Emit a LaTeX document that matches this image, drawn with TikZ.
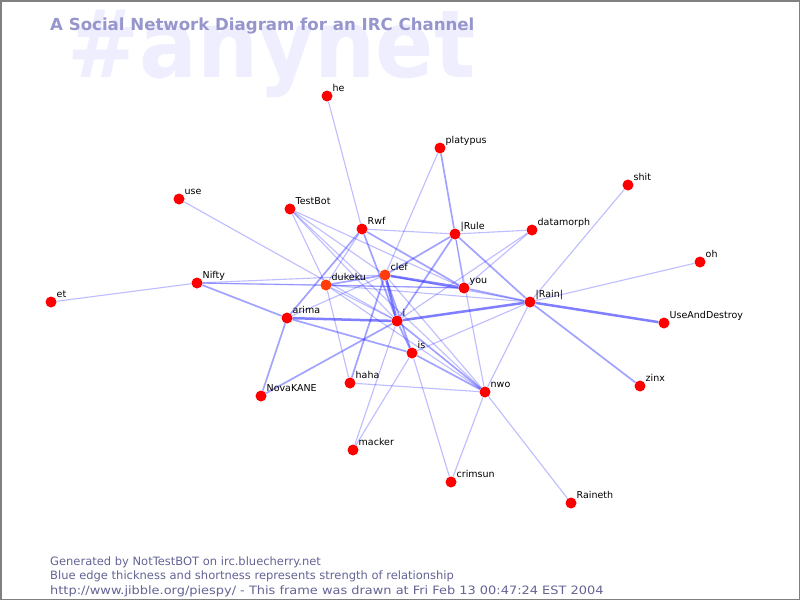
\documentclass[tikz,border=0pt]{standalone}
\usepackage{fontspec}
\setmainfont{DejaVu Sans}
\usetikzlibrary{calc}
\pgfdeclarelayer{bg}
\pgfdeclarelayer{edges}
\pgfsetlayers{bg,edges,main}
\definecolor{titlec}{RGB}{150,150,204}
\definecolor{wmark}{RGB}{238,238,255}
\definecolor{footc}{RGB}{100,100,150}
\definecolor{nodered}{RGB}{255,0,0}
\definecolor{nodeorange}{RGB}{255,60,10}
\definecolor{edgec}{RGB}{50,50,255}
\definecolor{framec}{RGB}{128,128,128}
\tikzset{
 person/.style={circle, inner sep=0pt, minimum size=11pt, fill=#1, draw=none},
 lab/.style={anchor=base west, inner sep=0pt, font=\fontsize{9.5}{10}\selectfont, text=black},
 weak/.style={draw=edgec, draw opacity=0.32, line width=1.1pt},
 medium/.style={draw=edgec, draw opacity=0.45, line width=1.7pt},
 strong/.style={draw=edgec, draw opacity=0.62, line width=2.5pt},
 foot/.style={anchor=base west, inner sep=0pt, text=footc, font=\fontsize{11.5}{12}\selectfont},
}
\begin{document}
\begin{tikzpicture}[x=1pt,y=-1pt]
\useasboundingbox (0,0) rectangle (800,600);
\begin{pgfonlayer}{bg}
\fill[white] (0,0) rectangle (800,600);
\node[anchor=base west, inner sep=0pt, text=wmark, font=\bfseries\fontsize{94}{94}\selectfont] (wm) at (67,77) {\scalebox{0.915}[1]{\#anynet}};
\end{pgfonlayer}
\node[anchor=base west, inner sep=0pt, text=titlec, font=\bfseries\fontsize{16.6}{18}\selectfont] (title) at (50,30) {A Social Network Diagram for an IRC Channel};
\node[foot] (f1) at (50,565) {Generated by NotTestBOT on irc.bluecherry.net};
\node[foot] (f2) at (50,579.5) {Blue edge thickness and shortness represents strength of relationship};
\node[foot] (f3) at (50,594) {\scalebox{1.125}[1]{http://www.jibble.org/piespy/ - This frame was drawn at Fri Feb 13 00:47:24 EST 2004}};
\draw[draw=framec, line width=1.5pt] (0.75,0.75) rectangle (799.25,599.25);
% people
\foreach \n/\x/\y/\c/\t in {
 he/327/96/nodered/he,
 platypus/440/148/nodered/platypus,
 shit/628/185/nodered/shit,
 use/179/199/nodered/use,
 testbot/290/209/nodered/TestBot,
 rwf/362/229/nodered/Rwf,
 irule/455/234/nodered/|Rule,
 datamorph/532/230/nodered/datamorph,
 oh/700/262/nodered/oh,
 nifty/197/283/nodered/Nifty,
 dukeku/326/285/nodeorange/dukeku,
 clef/385/275/nodeorange/clef,
 you/464/288/nodered/you,
 irain/530/302/nodered/|Rain|,
 et/51/302/nodered/et,
 arima/287/318/nodered/arima,
 i/397/321/nodered/i,
 uad/664/323/nodered/UseAndDestroy,
 is/412/353/nodered/is,
 haha/350/383/nodered/haha,
 novakane/261/396/nodered/NovaKANE,
 nwo/485/392/nodered/nwo,
 zinx/640/386/nodered/zinx,
 macker/353/450/nodered/macker,
 crimsun/451/482/nodered/crimsun,
 raineth/571/503/nodered/Raineth}
{
 \node[person=\c] (\n) at (\x,\y) {};
 \node[lab] (\n-l) at (\x+5.5,\y-5) {\t};
}
\begin{pgfonlayer}{edges}
\foreach \a/\b in {he/rwf, platypus/clef, shit/irain, oh/irain, nwo/irain, raineth/nwo,
 crimsun/nwo, crimsun/is, macker/is, macker/i, haha/nwo, haha/dukeku, et/nifty,
 nifty/dukeku, nifty/clef, nifty/you, use/i, testbot/dukeku, testbot/clef, testbot/i,
 testbot/nwo, testbot/you, rwf/irule, rwf/dukeku, irule/datamorph, irule/nwo, irule/you,
 datamorph/i, datamorph/you, dukeku/you, dukeku/irain, dukeku/i, dukeku/nwo, clef/nwo,
 clef/irain, arima/clef, is/irain}
 \draw[weak] (\a) -- (\b);
\foreach \a/\b in {platypus/irule, zinx/irain, haha/clef, novakane/arima, novakane/i,
 nifty/arima, rwf/arima, rwf/i, rwf/you, irule/clef, irule/i, irule/irain, dukeku/clef,
 clef/is, arima/is, i/is, i/nwo, is/nwo, you/irain}
 \draw[medium] (\a) -- (\b);
\foreach \a/\b in {uad/irain, clef/you, clef/i, arima/i, i/irain}
 \draw[strong] (\a) -- (\b);
\end{pgfonlayer}
\end{tikzpicture}
\end{document}
